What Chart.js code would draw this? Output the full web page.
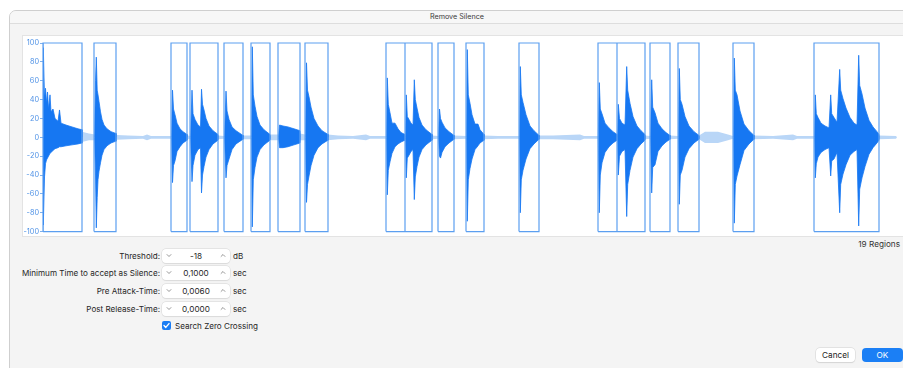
<!DOCTYPE html>
<html><head><meta charset="utf-8">
<script src="https://cdn.jsdelivr.net/npm/chart.js@4/dist/chart.umd.min.js"></script>
<style>
html,body{margin:0;padding:0;background:#fff;width:903px;height:368px;overflow:hidden;font-family:Inter,"Noto Sans",sans-serif;color:#262626;}
.abs{position:absolute;}
#dlg{left:9px;top:10px;width:910px;height:380px;background:#f4f4f4;border:1px solid #cfcfcf;border-radius:7px 0 0 0;box-sizing:border-box;}
#titlebar{left:10px;top:11px;width:900px;height:12px;background:#f7f7f7;border-bottom:1px solid #dddddd;border-radius:6px 0 0 0;}
#title{left:357px;top:11px;width:200px;text-align:center;font-size:7.2px;line-height:12px;color:#3a3a3a;}
#panel{left:22px;top:35px;width:890px;height:202px;background:#fff;border:1px solid #e3e3e3;box-sizing:border-box;}
#wrap{left:22px;top:35px;width:881px;height:202px;}
#regions{right:3px;top:238px;font-size:8.2px;line-height:12px;color:#333;}
.lbl{right:743px;font-size:8.1px;line-height:12px;white-space:nowrap;}
.field{left:162px;width:68px;height:14px;background:#fff;border-radius:4px;box-shadow:0 0 0 0.5px #d6d6d6,0 0.5px 1px rgba(0,0,0,0.08);}
.val{position:absolute;left:0;width:68px;text-align:center;top:0;font-size:8.2px;line-height:14px;}
.unit{left:233px;font-size:8.1px;line-height:12px;}
.chev{position:absolute;top:4px;display:block;}
#cb{left:162px;top:321px;width:9px;height:9px;background:#1a7df4;border-radius:2px;}
#cb svg{display:block;}
#cbl{left:175px;top:320px;font-size:8.1px;line-height:12px;}
.btn{top:348px;height:14px;border-radius:4px;font-size:8.2px;line-height:14px;text-align:center;}
#cancel{left:816px;width:39px;background:#fff;box-shadow:0 0 0 0.5px #d3d3d3,0 0.5px 1px rgba(0,0,0,0.12);color:#222;}
#ok{left:862px;width:41px;background:#1b7ff5;color:#fff;}
</style></head>
<body>
<div id="dlg" class="abs"></div>
<div id="titlebar" class="abs"></div>
<div id="title" class="abs">Remove Silence</div>
<div id="panel" class="abs"></div>
<div id="wrap" class="abs"><canvas id="c" width="881" height="202"></canvas></div>
<div id="regions" class="abs">19 Regions</div>
<div id="form"></div>
<div id="cb" class="abs"><svg width="9" height="9" viewBox="0 0 9 9"><polyline points="2,4.6 3.8,6.4 7,2.6" fill="none" stroke="#ffffff" stroke-width="1.4" stroke-linecap="round" stroke-linejoin="round"/></svg></div>
<div id="cbl" class="abs">Search Zero Crossing</div>
<div id="cancel" class="abs btn">Cancel</div>
<div id="ok" class="abs btn">OK</div>
<script>
// ---- data ----
// y axis ticks
const yTicks = [100, 80, 60, 40, 20, 0, -20, -40, -60, -80, -100];
// detected regions (seconds)
const regionStart = [0.00, 0.51, 1.28, 1.47, 1.81, 2.08, 2.35, 2.62, 3.43, 3.62, 3.95, 4.23, 4.76, 5.55, 5.74, 6.07, 6.35, 6.90, 7.71];
const regionEnd   = [0.39, 0.73, 1.44, 1.75, 2.00, 2.27, 2.57, 2.85, 3.62, 3.89, 4.11, 4.41, 4.96, 5.74, 6.02, 6.27, 6.56, 7.11, 8.36];
// waveform envelope inside regions (time s, upper %, lower %)
const waveTime = [
 0.000,0.003,0.015,0.025,0.035,0.045,0.055,0.070,0.080,0.100,0.120,0.150,0.165,0.180,0.230,0.290,0.350,0.390,0.395,
 0.515,0.525,0.533,0.542,0.550,0.560,0.575,0.590,0.610,0.640,0.680,0.730,0.735,
 1.285,1.295,1.305,1.320,1.340,1.370,1.400,1.440,1.445,
 1.475,1.490,1.500,1.520,1.550,1.575,1.585,1.595,1.610,1.630,1.660,1.700,1.750,1.755,
 1.815,1.830,1.840,1.860,1.890,1.930,2.000,2.005,
 2.085,2.093,2.103,2.120,2.140,2.170,2.210,2.270,2.275,
 2.355,2.365,2.400,2.450,2.510,2.570,2.575,
 2.625,2.635,2.645,2.660,2.680,2.710,2.750,2.790,2.850,2.855,
 3.435,3.443,3.453,3.470,3.490,3.520,3.550,3.580,3.620,3.622,
 3.625,3.633,3.643,3.660,3.680,3.700,3.713,3.723,3.740,3.760,3.790,3.830,3.890,3.895,
 3.955,3.965,3.975,3.990,4.020,4.060,4.110,4.115,
 4.235,4.243,4.253,4.270,4.290,4.320,4.350,4.370,4.410,4.415,
 4.765,4.773,4.783,4.800,4.830,4.870,4.910,4.960,4.965,
 5.553,5.563,5.573,5.590,5.620,5.660,5.700,5.740,5.742,
 5.745,5.753,5.765,5.790,5.820,5.837,5.847,5.870,5.900,5.940,5.980,6.020,6.025,
 6.075,6.087,6.097,6.120,6.150,6.190,6.230,6.270,6.275,
 6.355,6.363,6.373,6.390,6.420,6.460,6.510,6.560,6.565,
 6.905,6.913,6.923,6.940,6.970,7.010,7.060,7.110,7.115,
 7.715,7.723,7.733,7.750,7.780,7.820,7.860,7.877,7.887,7.910,7.940,7.967,7.977,8.000,8.030,8.070,8.110,8.140,8.157,8.167,8.190,8.220,8.260,8.300,8.340,8.360,8.365
];
const waveUpper = [
 0,95,42,52,36,48,30,45,27,30,20,17,29,15,13,11,9,8,0,
 0,60,85,50,45,38,27,19,13,9,6,4,0,
 0,50,30,24,15,9,6,3,0,
 0,50,25,19,13,11,51,35,29,20,12,7,3,0,
 0,49,28,19,11,7,2,0,
 0,96,45,33,22,13,8,3,0,
 0,13,12,11,9,7,0,
 0,79,50,43,32,20,12,7,3,0,
 0,63,35,26,15,15,9,5,3,0,
 0,45,22,19,15,13,61,40,31,21,13,8,3,0,
 0,30,20,16,10,6,2,0,
 0,93,45,36,24,14,14,8,3,0,
 0,75,45,37,24,12,7,2,0,
 0,58,30,25,15,10,6,3,0,
 0,35,20,15,13,75,50,36,22,12,7,3,0,
 0,61,32,26,15,9,5,2,0,
 0,73,40,35,22,12,6,2,0,
 0,84,50,45,28,14,7,2,0,
 0,45,25,21,15,12,10,45,25,21,16,72,50,41,31,21,15,13,87,55,46,31,18,11,6,3,0
];
const waveLower = [
 0,-93,-42,-28,-24,-22,-20,-17,-16,-14,-12,-11,-10,-10,-9,-8,-7,-6,0,
 0,-40,-96,-64,-45,-36,-27,-19,-13,-9,-6,-4,0,
 0,-48,-30,-25,-15,-10,-6,-3,0,
 0,-47,-30,-19,-13,-11,-59,-40,-31,-21,-13,-7,-3,0,
 0,-43,-30,-23,-13,-7,-2,0,
 0,-95,-45,-32,-21,-13,-8,-3,0,
 0,-11,-11,-10,-8,-6,0,
 0,-69,-50,-41,-30,-19,-11,-7,-3,0,
 0,-61,-35,-26,-17,-10,-7,-5,-3,0,
 0,-43,-22,-19,-15,-13,-66,-42,-31,-21,-13,-8,-3,0,
 0,-20,-22,-16,-10,-6,-2,0,
 0,-89,-45,-33,-23,-13,-9,-6,-3,0,
 0,-80,-45,-35,-23,-12,-7,-2,0,
 0,-80,-40,-27,-16,-10,-6,-3,0,
 0,-40,-20,-15,-13,-84,-50,-35,-21,-12,-7,-3,0,
 0,-59,-32,-29,-15,-9,-5,-2,0,
 0,-71,-40,-35,-21,-12,-6,-2,0,
 0,-91,-50,-41,-29,-14,-7,-2,0,
 0,-43,-28,-21,-16,-13,-11,-41,-25,-23,-16,-80,-50,-39,-29,-19,-15,-13,-94,-55,-43,-31,-18,-11,-6,-3,0
];
// low-level signal between regions (time s, upper %, lower %)
const quietTime  = [0.39,0.46,0.52,0.74,0.85,1.00,1.04,1.08,1.28,1.45,1.47,1.75,1.81,2.00,2.08,2.27,2.35,2.57,2.62,2.85,2.95,3.10,3.23,3.27,3.43,3.89,3.95,4.11,4.23,4.41,4.55,4.76,4.96,5.10,5.37,5.41,5.55,6.02,6.07,6.27,6.35,6.56,6.62,6.75,6.85,6.90,7.11,7.30,7.50,7.54,7.71,8.36,8.53,8.54];
const quietUpper = [6,4,3,2.5,2,1.5,3,1.5,1.5,2,1.5,2,1.5,2,2,3,3,4,3,3,2,1.5,3,1.5,1.5,2,1.5,2,1.5,2,1.5,1.5,2,2,3,1.5,1.5,2,1.5,2,1.5,2,6,6,3,1.5,2,1.5,3,1.5,1.5,2,1.5,0];
const quietLower = [-5,-3,-3,-2.5,-2,-1.5,-3,-1.5,-1.5,-2,-1.5,-2,-1.5,-2,-2,-3,-3,-3,-3,-3,-2,-1.5,-3,-1.5,-1.5,-2,-1.5,-2,-1.5,-2,-1.5,-1.5,-2,-2,-3,-1.5,-1.5,-2,-1.5,-2,-1.5,-2,-6,-6,-3,-1.5,-2,-1.5,-3,-1.5,-1.5,-2,-1.5,0];
// dialog fields
const fieldLabels = ["Threshold:", "Minimum Time to accept as Silence:", "Pre Attack-Time:", "Post Release-Time:"];
const fieldValues = ["-18", "0,1000", "0,0060", "0,0000"];
const fieldUnits  = ["dB", "sec", "sec", "sec"];

// ---- form ----
const rowY = [256, 273, 291, 309];
const form = document.getElementById('form');
const chevDown = '<svg class="chev" style="left:4px" width="6" height="5" viewBox="0 0 6 5"><polyline points="0.8,1.3 3,3.5 5.2,1.3" fill="none" stroke="#8a8a8a" stroke-width="0.9"/></svg>';
const chevUp = '<svg class="chev" style="left:58px" width="6" height="5" viewBox="0 0 6 5"><polyline points="0.8,3.7 3,1.5 5.2,3.7" fill="none" stroke="#8a8a8a" stroke-width="0.9"/></svg>';
fieldLabels.forEach((t, i) => {
  const y = rowY[i];
  form.insertAdjacentHTML('beforeend',
    `<div class="abs lbl" style="top:${y-6}px">${t}</div>` +
    `<div class="abs field" style="top:${y-7}px">${chevDown}<div class="val">${fieldValues[i]}</div>${chevUp}</div>` +
    `<div class="abs unit" style="top:${y-6}px">${fieldUnits[i]}</div>`);
});

// ---- chart ----
const pts = (xs, ys) => xs.map((x, i) => ({x, y: ys[i]}));
const boxPts = [];
regionStart.forEach((s, i) => {
  const e = regionEnd[i];
  boxPts.push({x: s, y: -100}, {x: s, y: 100}, {x: e, y: 100}, {x: e, y: -100}, {x: s, y: -100}, {x: e, y: null});
});
const hideFlat = c => (c.p0.parsed.y === 0 && c.p1.parsed.y === 0) ? 'rgba(0,0,0,0)' : undefined;
const WAVE = '#1677f2';
new Chart(document.getElementById('c'), {
  type: 'scatter',
  data: { datasets: [
    { data: boxPts, showLine: true, borderColor: '#5c9ff0', borderWidth: 1.2, pointRadius: 0, fill: false, spanGaps: false, clip: false, order: 0 },
    { data: pts(waveTime, waveUpper), showLine: true, borderColor: WAVE, borderWidth: 0.8, backgroundColor: WAVE, pointRadius: 0, fill: '+1', order: 1, segment: { borderColor: hideFlat } },
    { data: pts(waveTime, waveLower), showLine: true, borderColor: WAVE, borderWidth: 0.8, pointRadius: 0, fill: false, order: 1, segment: { borderColor: hideFlat } },
    { data: pts(quietTime, quietUpper), showLine: true, borderWidth: 0, borderColor: 'rgba(0,0,0,0)', backgroundColor: '#b9d6f7', pointRadius: 0, fill: '+1', order: 2 },
    { data: pts(quietTime, quietLower), showLine: true, borderWidth: 0, borderColor: 'rgba(0,0,0,0)', pointRadius: 0, fill: false, order: 2 }
  ]},
  options: {
    responsive: false, animation: false, events: [],
    layout: { padding: { top: 8, bottom: 5, left: 0, right: 4 } },
    plugins: { legend: { display: false }, tooltip: { enabled: false } },
    scales: {
      x: { type: 'linear', min: 0, max: 8.56, display: false },
      y: { min: -100, max: 100,
        afterFit: s => { s.width = 21; },
        afterBuildTicks: s => { s.ticks = yTicks.map(v => ({value: v})); },
        border: { display: true, color: '#a9cbf3', width: 1 },
        grid: { drawOnChartArea: false, drawTicks: true, tickLength: 3, color: '#7fb1ee' },
        ticks: { padding: 1, color: '#4f92e6', font: { family: 'Inter', size: 7.3 } } }
    }
  }
});
</script>
</body></html>
